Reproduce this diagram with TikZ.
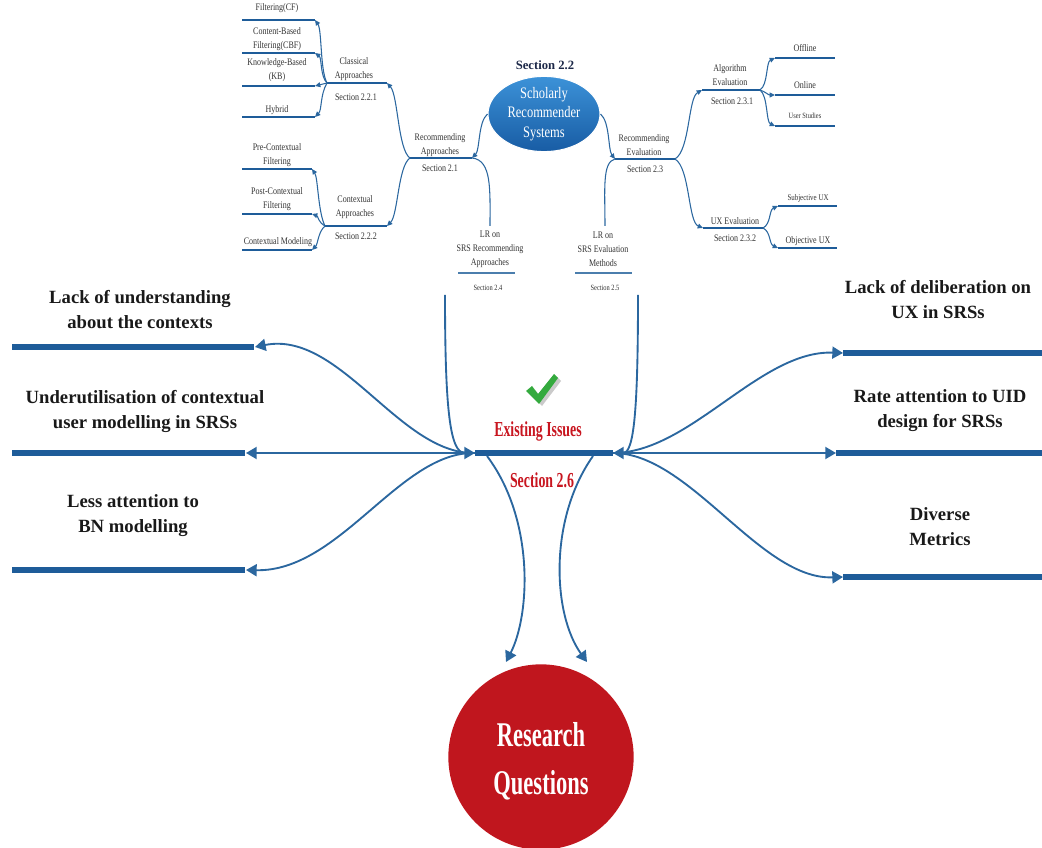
\documentclass[tikz,border=0pt]{standalone}
\usepackage{fontspec}
\setmainfont{Liberation Serif}
\newfontfamily\narrowfont[FakeStretch=0.65]{Liberation Serif}
\newfontfamily\ellfont[FakeStretch=0.78]{Liberation Serif}
\newfontfamily\tinyfont[FakeStretch=0.8]{Liberation Serif}
\usetikzlibrary{arrows.meta,shapes.geometric}

\definecolor{barblue}{RGB}{30,92,153}
\definecolor{linkblue}{RGB}{43,103,159}
\definecolor{issuered}{RGB}{200,22,32}
\definecolor{rqred}{RGB}{192,22,30}
\definecolor{navytext}{RGB}{28,40,72}
\definecolor{ballhi}{RGB}{60,146,216}
\definecolor{balllo}{RGB}{24,92,164}
\definecolor{tickgreen}{RGB}{52,170,62}

\tikzset{
  mainbar/.style={line width=5pt, barblue},
  twigline/.style={line width=2.1pt, barblue},
  lrline/.style={line width=1.6pt, linkblue!85},
  linkline/.style={line width=0.8pt, linkblue},
  flowline/.style={line width=1.4pt, linkblue},
  tipS/.style={-{Triangle[length=4pt,width=3.6pt]}},
  tipL/.style={-{Triangle[length=8pt,width=9pt]}},
  issuelabel/.style={font=\bfseries\fontsize{14}{18.75}\selectfont, align=center, inner sep=0pt, text=black!90},
  smalltext/.style={font=\tinyfont\fontsize{7.5}{10.5}\selectfont, align=center, inner sep=0pt, text=black!80},
  redtext/.style={font=\narrowfont\bfseries\fontsize{16}{18}\selectfont, inner sep=0pt, text=issuered},
}

\begin{document}
\begin{tikzpicture}[x=0.75pt, y=-0.75pt]
\useasboundingbox (0,0) rectangle (1042,848);

% ---------- top mind map: scholarly recommender systems ----------
\node[ellipse, minimum width=84pt, minimum height=54pt, inner sep=0pt,
      top color=ballhi, bottom color=balllo, draw=white, line width=0.8pt,
      font=\ellfont\fontsize{12}{14.5}\selectfont, text=white, align=center]
      (srs) at (544,114) {Scholarly\\Recommender\\Systems};
\node[font=\bfseries\fontsize{9.5}{11}\selectfont, text=navytext, inner sep=0pt] (srssec) at (545,65) {Section 2.2};

% Recommending approaches
\coordinate (raL) at (410,158); \coordinate (raR) at (472,158);
\draw[twigline] (raL) -- (raR);
\node[smalltext] (ra) at (440,145) {Recommending\\Approaches};
\node[smalltext] (rasec) at (440,168) {Section 2.1};

% Classical approaches
\coordinate (clL) at (327,83); \coordinate (clR) at (387,83);
\draw[twigline] (clL) -- (clR);
\node[smalltext] (cl) at (354,69) {Classical\\Approaches};
\node[smalltext] (clsec) at (356,97) {Section 2.2.1};

% Contextual approaches
\coordinate (cxL) at (325,226); \coordinate (cxR) at (387,226);
\draw[twigline] (cxL) -- (cxR);
\node[smalltext] (cx) at (355,207) {Contextual\\Approaches};
\node[smalltext] (cxsec) at (356,236) {Section 2.2.2};

% classical leaves
\coordinate (cfR) at (315,20);  \draw[twigline] (242,20) -- (cfR);
\coordinate (cbfR) at (315,53); \draw[twigline] (242,53) -- (cbfR);
\coordinate (kbR) at (315,86);  \draw[twigline] (242,86) -- (kbR);
\coordinate (hyR) at (315,117); \draw[twigline] (242,117) -- (hyR);
\node[smalltext] (cf) at (277,8) {Filtering(CF)};
\node[smalltext] (cbf) at (277,39) {Content-Based\\Filtering(CBF)};
\node[smalltext] (kb) at (277,70) {Knowledge-Based\\(KB)};
\node[smalltext] (hy) at (277,110) {Hybrid};

% contextual leaves
\coordinate (preR) at (312,169); \draw[twigline] (242,169) -- (preR);
\coordinate (postR) at (312,214); \draw[twigline] (242,214) -- (postR);
\coordinate (cmR) at (312,250); \draw[twigline] (242,250) -- (cmR);
\node[smalltext] (pre) at (277,155) {Pre-Contextual\\Filtering};
\node[smalltext] (post) at (277,199) {Post-Contextual\\Filtering};
\node[smalltext] (cm) at (278,242) {Contextual Modeling};

% Recommending evaluation
\coordinate (reL) at (615,159); \coordinate (reR) at (675,159);
\draw[twigline] (reL) -- (reR);
\node[smalltext] (re) at (644,145) {Recommending\\Evaluation};
\node[smalltext] (resec) at (645,169) {Section 2.3};

% Algorithm evaluation
\coordinate (aeL) at (702,90); \coordinate (aeR) at (760,90);
\draw[twigline] (aeL) -- (aeR);
\node[smalltext] (ae) at (730,75) {Algorithm\\Evaluation};
\node[smalltext] (aesec) at (732,101) {Section 2.3.1};

% UX evaluation
\coordinate (uxL) at (703,228); \coordinate (uxR) at (763,228);
\draw[twigline] (uxL) -- (uxR);
\node[smalltext] (ux) at (735,221) {UX Evaluation};
\node[smalltext] (uxsec) at (735,238) {Section 2.3.2};

% evaluation leaves
\coordinate (offL) at (775,58);  \draw[twigline] (offL) -- (835,58);
\coordinate (onL) at (775,95);   \draw[twigline] (onL) -- (835,95);
\coordinate (usL) at (775,126);  \draw[twigline] (usL) -- (835,126);
\coordinate (subL) at (778,206); \draw[twigline] (subL) -- (837,206);
\coordinate (objL) at (778,248); \draw[twigline] (objL) -- (837,248);
\node[smalltext] (off) at (805,48) {Offline};
\node[smalltext] (on) at (805,85) {Online};
\node[smalltext, font=\tinyfont\fontsize{6}{8}\selectfont] (us) at (805,116) {User Studies};
\node[smalltext, font=\tinyfont\fontsize{6.5}{8}\selectfont] (sub) at (808,198) {Subjective UX};
\node[smalltext] (obj) at (808,241) {Objective UX};

% literature review nodes
\coordinate (lr1top) at (490,226); \coordinate (lr2top) at (605,226);
\node[smalltext] (lr1) at (490,249) {LR on\\SRS Recommending\\Approaches};
\draw[lrline] (458,273) -- (515,273);
\node[smalltext, font=\tinyfont\fontsize{6}{8}\selectfont] (lr1sec) at (488,288) {Section 2.4};
\node[smalltext] (lr2) at (603,249) {LR on\\SRS Evaluation\\Methods};
\draw[lrline] (575,273) -- (632,273);
\node[smalltext, font=\tinyfont\fontsize{6}{8}\selectfont] (lr2sec) at (605,288) {Section 2.5};

% connectors of the mind map
\draw[linkline, tipS] (srs.west) .. controls (478,122) and (480,150) .. (raR);
\draw[linkline] (raR) .. controls (492,160) and (490,190) .. (lr1top);
\draw[linkline, tipS] (raL) .. controls (398,150) and (398,95) .. (clR);
\draw[linkline, tipS] (raL) .. controls (398,166) and (398,215) .. (cxR);
\draw[linkline, tipS] (clL) .. controls (320,70) and (322,30) .. (cfR);
\draw[linkline, tipS] (clL) .. controls (320,76) and (322,58) .. (cbfR);
\draw[linkline, tipS] (clL) -- (kbR);
\draw[linkline, tipS] (clL) .. controls (320,95) and (322,110) .. (hyR);
\draw[linkline, tipS] (cxL) .. controls (318,212) and (318,178) .. (preR);
\draw[linkline, tipS] (cxL) .. controls (318,222) and (318,216) .. (postR);
\draw[linkline, tipS] (cxL) .. controls (318,232) and (318,244) .. (cmR);
\draw[linkline, tipS] (srs.east) .. controls (610,122) and (608,150) .. (reL);
\draw[linkline] (reL) .. controls (602,162) and (605,190) .. (lr2top);
\draw[linkline, tipS] (reR) .. controls (690,150) and (688,98) .. (aeL);
\draw[linkline, tipS] (reR) .. controls (690,168) and (688,222) .. (uxL);
\draw[linkline, tipS] (aeR) .. controls (768,85) and (766,62) .. (offL);
\draw[linkline, tipS] (aeR) .. controls (766,92) and (768,95) .. (onL);
\draw[linkline, tipS] (aeR) .. controls (768,96) and (766,122) .. (usL);
\draw[linkline, tipS] (uxR) .. controls (771,224) and (769,210) .. (subL);
\draw[linkline, tipS] (uxR) .. controls (771,232) and (769,244) .. (objL);

% ---------- existing issues ----------
\coordinate (eiL) at (475,453); \coordinate (eiR) at (613,453);
\draw[mainbar] (eiL) -- (eiR);
\node[redtext] (ei) at (538,431) {Existing Issues};
\node[redtext] (eisec) at (542,480) {Section 2.6};

% green tick above the label
\fill[black!35, opacity=0.6] (530,394) -- (535,390) -- (541,397) -- (557,377) -- (561,381) -- (542,406) -- cycle;
\fill[tickgreen] (526,391) -- (532,386) -- (538,394) -- (554,374) -- (558,378) -- (539,404) -- cycle;

% issue bars, left
\coordinate (l1e) at (255,347); \draw[mainbar] (12,347) -- (254,347);
\coordinate (l2e) at (246,453); \draw[mainbar] (12,453) -- (245,453);
\coordinate (l3e) at (246,570); \draw[mainbar] (12,570) -- (245,570);
\node[issuelabel] (t1) at (140,310) {Lack of understanding\\about the contexts};
\node[issuelabel] (t2) at (145,411) {Underutilisation of contextual\\user modelling in SRSs};
\node[issuelabel] (t3) at (133,516) {Less attention to\\BN modelling};

% issue bars, right
\coordinate (r1s) at (843,353); \draw[mainbar] (843,353) -- (1042,353);
\coordinate (r2s) at (836,453); \draw[mainbar] (836,453) -- (1042,453);
\coordinate (r3s) at (843,577); \draw[mainbar] (843,577) -- (1042,577);
\node[issuelabel] (t4) at (938,300) {Lack of deliberation on\\UX in SRSs};
\node[issuelabel] (t5) at (940,411) {Rate attention to UID\\design for SRSs};
\node[issuelabel] (t6) at (940,527) {Diverse\\Metrics};

% flows into and out of the existing issues bar
\coordinate (v1) at (445,295); \coordinate (v2) at (638,295);
\draw[flowline, tipL] (v1) .. controls (445,410) and (450,453) .. (eiL);
\draw[flowline, tipL] (v2) .. controls (638,410) and (634,453) .. (eiR);
\draw[flowline, tipL] (eiL) .. controls (400,455) and (340,330) .. (l1e);
\draw[flowline, tipL] (eiL) -- (l2e);
\draw[flowline, tipL] (eiL) .. controls (400,451) and (340,572) .. (l3e);
\draw[flowline, tipL] (eiR) .. controls (690,453) and (760,350) .. (r1s);
\draw[flowline, tipL] (eiR) -- (r2s);
\draw[flowline, tipL] (eiR) .. controls (690,453) and (760,580) .. (r3s);

% ---------- research questions ----------
\node[circle, fill=rqred, minimum size=139pt, inner sep=0pt] (rq) at (541,757) {};
\node[font=\narrowfont\bfseries\fontsize{26}{36}\selectfont, text=white, align=center, inner sep=0pt]
      (rqtext) at (541,761) {Research\\Questions};
\coordinate (d1s) at (487,456); \coordinate (d1e) at (506,662);
\coordinate (d2s) at (593,456); \coordinate (d2e) at (587,662);
\draw[flowline, tipL] (d1s) .. controls (535,520) and (530,615) .. (d1e);
\draw[flowline, tipL] (d2s) .. controls (548,520) and (553,615) .. (d2e);
\end{tikzpicture}
\end{document}
